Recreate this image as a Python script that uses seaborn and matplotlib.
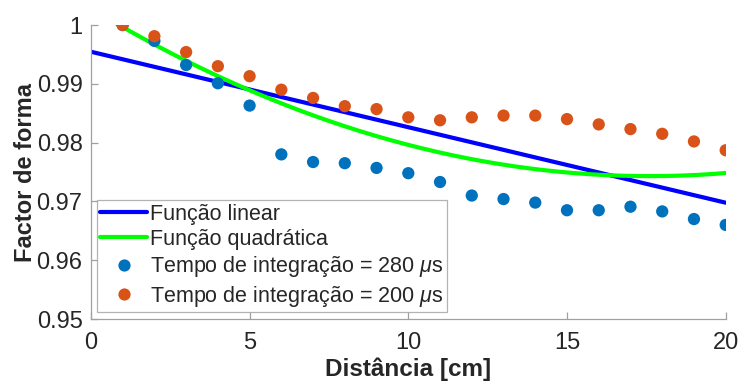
import numpy as np
import pandas as pd
import seaborn as sns
import matplotlib
matplotlib.use("Agg")
import matplotlib.pyplot as plt
from matplotlib.lines import Line2D

# Measured shape factor vs distance for two integration times
distance = [1, 2, 3, 4, 5, 6, 7, 8, 9, 10, 11, 12, 13, 14, 15, 16, 17, 18, 19, 20]
factor_280 = [1.0000, 0.9973, 0.9932, 0.9901, 0.9863, 0.9780, 0.9767, 0.9765, 0.9757,
              0.9748, 0.9733, 0.9710, 0.9704, 0.9698, 0.9685, 0.9685, 0.9691, 0.9683,
              0.9670, 0.9660]
factor_200 = [1.0000, 0.9981, 0.9954, 0.9930, 0.9913, 0.9890, 0.9876, 0.9862, 0.9857,
              0.9843, 0.9838, 0.9843, 0.9846, 0.9846, 0.9840, 0.9831, 0.9823, 0.9815,
              0.9802, 0.9787]

# Fitted model coefficients
linear_coef = [0.99546, -0.001284]              # a + b*x
quad_coef = [1.002798, -0.0032384, 0.000092]     # a + b*x + c*x^2
linear_range = (0.0, 20.0)
quad_range = (0.7, 20.0)

x_ticks = [0, 5, 10, 15, 20]
y_ticks = [0.95, 0.96, 0.97, 0.98, 0.99, 1.0]
y_tick_labels = ["0.95", "0.96", "0.97", "0.98", "0.99", "1"]

legend_labels = ["Função linear", "Função quadrática",
                 r"Tempo de integração = 280 $\mu$s",
                 r"Tempo de integração = 200 $\mu$s"]

sns.set_style("white")
plt.rcParams["font.family"] = ["Liberation Sans", "DejaVu Sans"]
plt.rcParams["mathtext.fontset"] = "custom"
plt.rcParams["mathtext.it"] = "Liberation Sans:italic"
plt.rcParams["mathtext.rm"] = "Liberation Sans"

fig = plt.figure(figsize=(7.39, 3.85), dpi=100)
ax = fig.add_axes([0.123, 0.1714, 0.859, 0.7636])

xl = np.linspace(*linear_range, 200)
yl = linear_coef[0] + linear_coef[1] * xl
xq = np.linspace(*quad_range, 200)
yq = quad_coef[0] + quad_coef[1] * xq + quad_coef[2] * xq ** 2

fits = pd.DataFrame({"x": xl, "y": yl})
quad = pd.DataFrame({"x": xq, "y": yq})
pts = pd.DataFrame({"d": distance, "f280": factor_280, "f200": factor_200})

blue_line = "#0000FF"
green_line = "#00FF00"
blue_dot = "#0072BD"
orange_dot = "#D95319"
axis_grey = "#a0a0a0"
text_col = "#262626"

sns.lineplot(data=fits, x="x", y="y", color=blue_line, lw=3, ax=ax)
sns.lineplot(data=quad, x="x", y="y", color=green_line, lw=3, ax=ax)
sns.scatterplot(data=pts, x="d", y="f280", color=blue_dot, s=78, edgecolor="none", ax=ax, zorder=3)
sns.scatterplot(data=pts, x="d", y="f200", color=orange_dot, s=78, edgecolor="none", ax=ax, zorder=4)

ax.set_xlim(0, 20)
ax.set_ylim(0.95, 1.0)
ax.set_xticks(x_ticks)
ax.set_yticks(y_ticks)
ax.set_yticklabels(y_tick_labels)

for side in ["top", "right"]:
    ax.spines[side].set_visible(False)
for side in ["left", "bottom"]:
    ax.spines[side].set_color(axis_grey)
    ax.spines[side].set_linewidth(0.9)
ax.tick_params(direction="in", length=5, width=0.9, color=axis_grey,
               labelsize=17, labelcolor=text_col, left=True, bottom=True)
ax.tick_params(axis="x", pad=9)
ax.tick_params(axis="y", pad=6)

ax.set_xlabel("Distância [cm]", fontsize=17.5, fontweight="bold", color=text_col, labelpad=3)
ax.set_ylabel("Factor de forma", fontsize=17, fontweight="bold", color=text_col, labelpad=0)

handles = [
    Line2D([], [], color=blue_line, lw=3),
    Line2D([], [], color=green_line, lw=3),
    Line2D([], [], color=blue_dot, marker="o", ls="none", markersize=8.8, markeredgecolor="none"),
    Line2D([], [], color=orange_dot, marker="o", ls="none", markersize=8.8, markeredgecolor="none"),
]
leg = ax.legend(handles, legend_labels, loc="lower left", bbox_to_anchor=(0.009, 0.024),
                fontsize=15.5, frameon=True, fancybox=False, edgecolor=axis_grey,
                handlelength=2.2, handletextpad=0.14, labelspacing=0.2,
                borderpad=0.16, borderaxespad=0.0)
leg.get_frame().set_linewidth(0.9)

fig.savefig("out.png", dpi=100, facecolor="white")
